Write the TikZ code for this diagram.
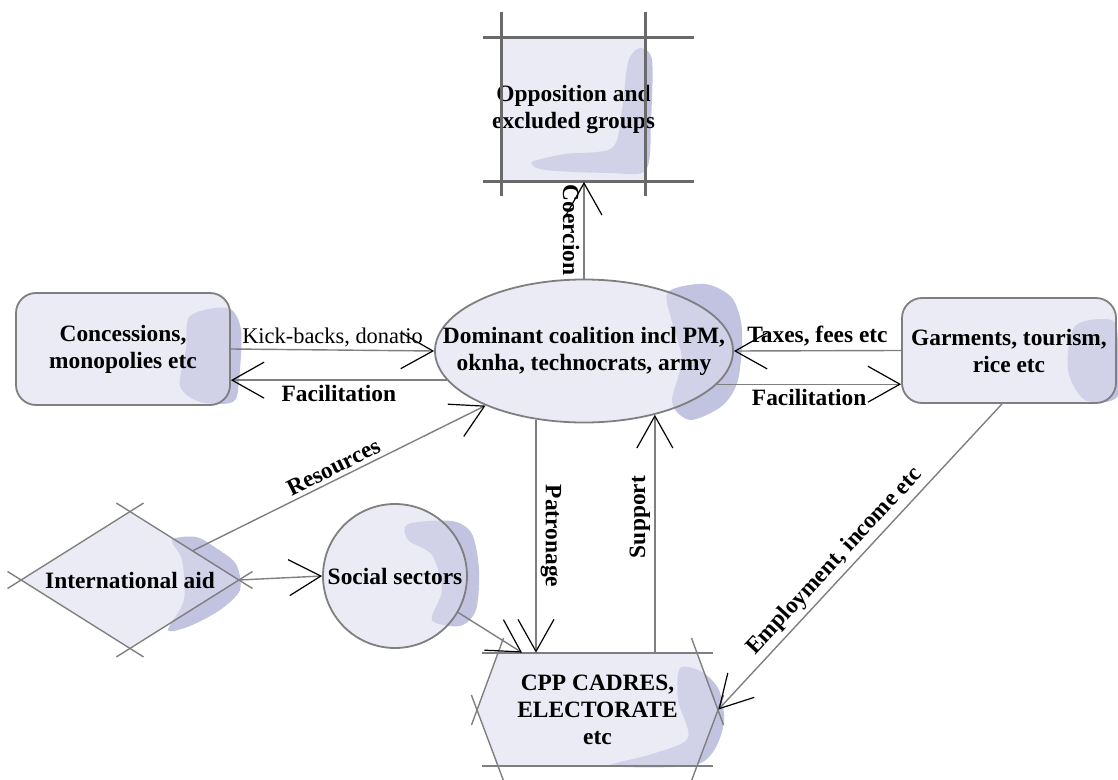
\documentclass[tikz,border=0pt]{standalone}
\usepackage{fontspec}
\setmainfont{Liberation Serif}
\usetikzlibrary{arrows.meta,shapes.geometric,positioning}

\definecolor{edgegray}{HTML}{7F7F7F}
\definecolor{framegray}{HTML}{6A6A6A}
\definecolor{boxfill}{HTML}{DCDDEE}
\definecolor{blobfill}{HTML}{C2C3E0}

\begin{document}
\begin{tikzpicture}[x=0.5pt,y=-0.5pt,
  txt/.style={font=\bfseries\fontsize{11.7}{13.5}\selectfont, align=center},
  box/.style={txt, fill=boxfill, fill opacity=0.6, text opacity=1, draw=edgegray, line width=0.9pt},
  blob/.style={fill=blobfill, draw=none},
  oppframe/.style={draw=framegray, line width=1.5pt},
  sketch/.style={draw=edgegray, line width=0.7pt, shorten <=-8pt, shorten >=-8pt},
  flow/.style={draw=edgegray, line width=0.7pt, -{Straight Barb[length=16pt,width=18pt,line width=0.6pt,color=black]}},
  tag/.style={font=\bfseries\fontsize{11.7}{13.5}\selectfont, inner sep=2pt}]
\useasboundingbox (0,0) rectangle (1118,780);
\fill[blob] plot[smooth cycle] coordinates {(640,48) (652,60) (651,120) (646,170) (610,173) (545,170) (532,162) (565,154) (612,148) (622,110) (628,62)};
\fill[blob] plot[smooth cycle] coordinates {(190,316) (228,308) (241,330) (239,380) (233,402) (200,402) (180,386) (186,350)};
\fill[blob] plot[smooth cycle] coordinates {(668,292) (705,284) (732,298) (742,330) (738,380) (722,406) (690,420) (672,402) (682,360) (672,322)};
\fill[blob] plot[smooth cycle] coordinates {(1075,326) (1112,320) (1118,342) (1118,396) (1085,400) (1068,370)};
\fill[blob] plot[smooth cycle] coordinates {(172,540) (196,537) (216,548) (236,564) (240,590) (220,610) (190,626) (168,630) (184,600) (182,560)};
\fill[blob] plot[smooth cycle] coordinates {(408,524) (452,521) (472,534) (479,570) (476,610) (460,626) (432,620) (442,590) (432,555) (408,540)};
\fill[blob] plot[smooth cycle] coordinates {(680,668) (702,672) (719,690) (724,722) (713,752) (690,766) (610,766) (652,754) (688,738) (678,700)};

\node[box, draw=none, minimum width=68.5pt, minimum height=71.5pt, inner xsep=-5pt] (opp) at (573.5,109.5) {Opposition and\\excluded groups};
\draw[oppframe, shorten <=-9pt, shorten >=-24pt] (opp.north west) -- (opp.north east);
\draw[oppframe, shorten <=-9pt, shorten >=-24pt] (opp.south west) -- (opp.south east);
\draw[oppframe, shorten <=-12.5pt, shorten >=-7pt] (opp.north west) -- (opp.south west);
\draw[oppframe, shorten <=-12.5pt, shorten >=-7pt] (opp.north east) -- (opp.south east);

\node[box, ellipse, minimum width=149pt, minimum height=71.5pt, inner xsep=-18pt, inner ysep=12pt] (dom) at (584,351) {Dominant coalition incl PM,\\oknha, technocrats, army};
\node[box, rounded corners=10pt, minimum width=107pt, minimum height=56pt] (conc) at (123,349) {Concessions,\\monopolies etc};
\node[box, rounded corners=10pt, minimum width=107pt, minimum height=52.5pt] (garm) at (1009,350.5) {Garments, tourism,\\rice etc};

\node[box, diamond, aspect=1.6, draw=none, inner sep=0pt, minimum width=108pt, minimum height=67.5pt] (aid) at (130,580) {International aid};
\draw[sketch] (aid.west) -- (aid.north);
\draw[sketch] (aid.north) -- (aid.east);
\draw[sketch] (aid.east) -- (aid.south);
\draw[sketch] (aid.south) -- (aid.west);

\node[box, circle, minimum size=72pt, inner sep=0pt] (social) at (395,576) {Social sectors};

\coordinate (h1) at (498,653);
\coordinate (h2) at (697,653);
\coordinate (h3) at (718,710);
\coordinate (h4) at (697,766);
\coordinate (h5) at (498,766);
\coordinate (h6) at (477,710);
\fill[boxfill, fill opacity=0.6] (h1) -- (h2) -- (h3) -- (h4) -- (h5) -- (h6) -- cycle;
\foreach \a/\b in {h1/h2,h2/h3,h3/h4,h4/h5,h5/h6,h6/h1}
  \draw[sketch] (\a) -- (\b);
\node[txt, minimum width=120.5pt, minimum height=56.5pt] (cpp) at (597.5,709.5) {CPP CADRES,\\ELECTORATE\\etc};

\draw[flow] (dom.north) -- (dom.north |- opp.south) node[midway, tag, anchor=north, rotate=-90] {Coercion};
\draw[flow] (conc.east) -- (dom.west) node[midway, above, font=\fontsize{11.2}{13}\selectfont, inner sep=1pt] {Kick-backs, donatio};
\draw[flow] (dom.192) -- (dom.192 -| conc.east) node[midway, below, tag] {Facilitation};
\draw[flow] (garm.west) -- (dom.east) node[midway, above, tag] {Taxes, fees etc};
\draw[flow] (dom.346) -- (dom.346 -| garm.west) node[midway, below, tag] {Facilitation};
\draw[flow] (aid.25) -- (dom.209) node[midway, above, sloped, tag] {Resources};
\draw[flow] ([xshift=-3.5pt]garm.south) -- (cpp.east) node[pos=0.55, above, sloped, tag] {Employment, income etc};
\draw[flow] (aid.east) -- (social.west);
\draw[flow] (social.330) -- ([xshift=-37.75pt]cpp.north);
\draw[flow] (dom.235) -- (dom.235 |- cpp.north) node[midway, anchor=south, rotate=-90, tag] {Patronage};
\draw[flow] (cpp.north -| dom.318) -- (dom.318) node[pos=0.57, anchor=south, rotate=90, tag] {Support};
\end{tikzpicture}
\end{document}
